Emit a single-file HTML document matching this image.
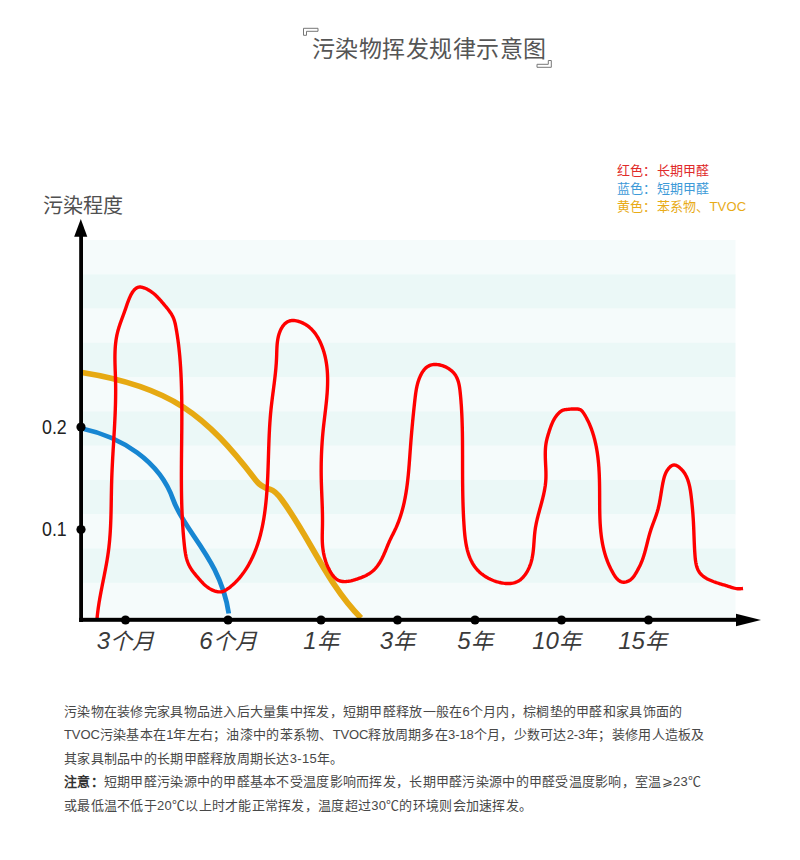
<!DOCTYPE html>
<html lang="zh-CN">
<head>
<meta charset="utf-8">
<style>
html,body{margin:0;padding:0;background:#fff;}
body{width:800px;height:860px;position:relative;overflow:hidden;font-family:"Liberation Sans",sans-serif;color:#444;}
.abs{position:absolute;white-space:nowrap;}
.title{left:312px;top:34px;font-size:23px;line-height:30px;color:#555;letter-spacing:0.45px;}
.legend{left:617px;top:162px;font-size:13px;line-height:18px;letter-spacing:0.2px;}
.ylab{left:43px;top:193.5px;font-size:20px;line-height:24px;color:#505050;}
.yn{left:42px;font-size:20px;line-height:20px;color:#222;transform:scaleX(0.89);transform-origin:0 0;}
.xl{position:absolute;top:626px;width:120px;text-align:center;font-size:22px;line-height:30px;font-style:italic;color:#3a3a3a;}
.xl span{font-size:24px;}
.para{left:64px;top:699.5px;font-size:13px;line-height:23.5px;color:#484848;letter-spacing:0.28px;}
svg{position:absolute;left:0;top:0;}
.l{font-style:normal;letter-spacing:-0.1px;}
</style>
</head>
<body>
<svg width="800" height="860" viewBox="0 0 800 860">
<rect x="83" y="240.00" width="652.5" height="34.57" fill="#f5fbfb"/><rect x="83" y="274.27" width="652.5" height="34.57" fill="#ebf8f7"/><rect x="83" y="308.55" width="652.5" height="34.57" fill="#f5fbfb"/><rect x="83" y="342.82" width="652.5" height="34.57" fill="#ebf8f7"/><rect x="83" y="377.09" width="652.5" height="34.57" fill="#f5fbfb"/><rect x="83" y="411.36" width="652.5" height="34.57" fill="#ebf8f7"/><rect x="83" y="445.64" width="652.5" height="34.57" fill="#f5fbfb"/><rect x="83" y="479.91" width="652.5" height="34.57" fill="#ebf8f7"/><rect x="83" y="514.18" width="652.5" height="34.57" fill="#f5fbfb"/><rect x="83" y="548.45" width="652.5" height="34.57" fill="#ebf8f7"/><rect x="83" y="582.73" width="652.5" height="34.57" fill="#f5fbfb"/>
<path d="M82,372.5 C169.96,386.6 205.2,414.09 256,480.5 C261,487 266,488.2 270,489.3 C274,490.4 277,493 282,500 C309.93,537.93 327.16,584.08 361,618" fill="none" stroke="#e6a912" stroke-width="5.8" stroke-linecap="butt"/>
<path d="M82,428.5 C120.88,436.87 159.79,460.78 173.25,499.9 C184.18,531.66 220.66,559.08 228.75,613.5" fill="none" stroke="#1786d2" stroke-width="4.8" stroke-linecap="butt"/>
<path d="M96.95,619.65 L97.05,618.45 L97.16,617.26 L97.28,616.07 L97.41,614.88 L97.54,613.69 L97.68,612.50 L97.83,611.31 L97.98,610.13 L98.14,608.94 L98.30,607.76 L98.48,606.57 L98.65,605.39 L98.83,604.21 L99.02,603.02 L99.21,601.84 L99.41,600.66 L99.61,599.48 L99.82,598.30 L100.02,597.12 L100.24,595.95 L100.45,594.77 L100.67,593.59 L100.89,592.41 L101.11,591.24 L101.34,590.06 L101.57,588.89 L101.80,587.71 L102.03,586.54 L102.26,585.36 L102.49,584.19 L102.73,583.01 L102.96,581.84 L103.19,580.66 L103.43,579.49 L103.66,578.31 L103.90,577.14 L104.13,575.96 L104.36,574.79 L104.59,573.62 L104.82,572.44 L105.05,571.27 L105.28,570.09 L105.50,568.92 L105.72,567.74 L105.94,566.56 L106.16,565.39 L106.37,564.21 L106.58,563.03 L106.78,561.86 L106.98,560.68 L107.18,559.50 L107.37,558.32 L107.56,557.14 L107.74,555.96 L107.92,554.78 L108.09,553.60 L108.26,552.41 L108.42,551.23 L108.57,550.05 L108.72,548.86 L108.86,547.68 L108.99,546.49 L109.12,545.30 L109.25,544.12 L109.37,542.93 L109.48,541.74 L109.59,540.55 L109.70,539.36 L109.80,538.17 L109.89,536.98 L109.98,535.78 L110.07,534.59 L110.15,533.40 L110.23,532.21 L110.30,531.01 L110.37,529.82 L110.43,528.62 L110.50,527.43 L110.56,526.23 L110.61,525.04 L110.66,523.84 L110.71,522.64 L110.76,521.44 L110.80,520.25 L110.85,519.05 L110.89,517.85 L110.92,516.65 L110.96,515.45 L110.99,514.26 L111.02,513.06 L111.05,511.86 L111.08,510.66 L111.11,509.46 L111.13,508.26 L111.15,507.06 L111.18,505.86 L111.20,504.66 L111.22,503.46 L111.24,502.26 L111.26,501.06 L111.28,499.86 L111.30,498.66 L111.32,497.46 L111.34,496.26 L111.36,495.06 L111.38,493.86 L111.41,492.66 L111.43,491.46 L111.45,490.26 L111.47,489.06 L111.50,487.86 L111.53,486.66 L111.55,485.46 L111.58,484.26 L111.62,483.07 L111.65,481.87 L111.68,480.67 L111.72,479.47 L111.76,478.28 L111.80,477.08 L111.84,475.88 L111.89,474.69 L111.94,473.49 L111.99,472.30 L112.04,471.10 L112.09,469.90 L112.14,468.71 L112.20,467.52 L112.26,466.32 L112.32,465.13 L112.38,463.93 L112.44,462.74 L112.50,461.55 L112.56,460.35 L112.63,459.16 L112.69,457.97 L112.76,456.77 L112.83,455.58 L112.90,454.39 L112.96,453.20 L113.03,452.00 L113.10,450.81 L113.17,449.62 L113.24,448.43 L113.31,447.23 L113.39,446.04 L113.46,444.85 L113.53,443.66 L113.60,442.47 L113.67,441.27 L113.74,440.08 L113.81,438.89 L113.88,437.70 L113.95,436.51 L114.02,435.31 L114.09,434.12 L114.16,432.93 L114.23,431.74 L114.30,430.55 L114.37,429.35 L114.43,428.16 L114.50,426.97 L114.56,425.78 L114.62,424.58 L114.68,423.39 L114.75,422.20 L114.80,421.01 L114.86,419.81 L114.92,418.62 L114.97,417.43 L115.03,416.23 L115.08,415.04 L115.13,413.84 L115.18,412.65 L115.22,411.46 L115.27,410.26 L115.31,409.07 L115.35,407.87 L115.39,406.67 L115.43,405.48 L115.46,404.28 L115.49,403.09 L115.52,401.89 L115.55,400.69 L115.57,399.50 L115.59,398.30 L115.61,397.10 L115.62,395.90 L115.64,394.70 L115.65,393.50 L115.65,392.31 L115.66,391.11 L115.66,389.91 L115.65,388.70 L115.65,387.50 L115.64,386.30 L115.63,385.10 L115.61,383.90 L115.59,382.70 L115.56,381.49 L115.54,380.29 L115.51,379.09 L115.47,377.88 L115.43,376.68 L115.39,375.47 L115.35,374.27 L115.31,373.06 L115.27,371.85 L115.22,370.65 L115.18,369.44 L115.14,368.24 L115.10,367.03 L115.07,365.83 L115.03,364.63 L115.00,363.42 L114.98,362.22 L114.96,361.02 L114.95,359.82 L114.94,358.62 L114.93,357.42 L114.94,356.22 L114.95,355.02 L114.98,353.83 L115.01,352.63 L115.05,351.44 L115.10,350.24 L115.16,349.05 L115.23,347.87 L115.32,346.68 L115.41,345.49 L115.52,344.31 L115.65,343.13 L115.79,341.95 L115.94,340.77 L116.11,339.59 L116.29,338.42 L116.50,337.25 L116.71,336.08 L116.95,334.91 L117.21,333.75 L117.48,332.59 L117.78,331.43 L118.09,330.27 L118.42,329.12 L118.76,327.97 L119.12,326.82 L119.49,325.68 L119.87,324.54 L120.26,323.40 L120.66,322.26 L121.07,321.12 L121.48,319.99 L121.89,318.86 L122.31,317.74 L122.73,316.61 L123.14,315.49 L123.56,314.37 L123.97,313.26 L124.37,312.14 L124.77,311.03 L125.16,309.92 L125.54,308.82 L125.91,307.71 L126.29,306.61 L126.66,305.50 L127.04,304.39 L127.43,303.28 L127.84,302.16 L128.26,301.04 L128.70,299.91 L129.16,298.76 L129.66,297.61 L130.18,296.45 L130.74,295.29 L131.33,294.15 L131.96,293.04 L132.64,291.98 L133.35,290.98 L134.12,290.06 L134.93,289.23 L135.78,288.51 L136.70,287.91 L137.66,287.46 L138.69,287.15 L139.77,287.02 L140.91,287.07 L142.10,287.27 L143.30,287.60 L144.51,288.03 L145.70,288.53 L146.86,289.08 L147.98,289.66 L149.05,290.28 L150.10,290.93 L151.10,291.60 L152.08,292.30 L153.02,293.03 L153.94,293.79 L154.83,294.56 L155.70,295.36 L156.55,296.17 L157.39,297.01 L158.21,297.86 L159.01,298.72 L159.81,299.60 L160.60,300.49 L161.38,301.38 L162.17,302.29 L162.95,303.20 L163.73,304.12 L164.52,305.04 L165.30,305.97 L166.08,306.90 L166.86,307.84 L167.62,308.79 L168.37,309.75 L169.09,310.72 L169.80,311.70 L170.48,312.69 L171.13,313.70 L171.75,314.72 L172.32,315.76 L172.86,316.81 L173.36,317.88 L173.80,318.98 L174.20,320.09 L174.55,321.22 L174.87,322.37 L175.15,323.52 L175.41,324.69 L175.65,325.86 L175.87,327.04 L176.08,328.22 L176.29,329.40 L176.50,330.58 L176.70,331.77 L176.89,332.95 L177.08,334.13 L177.26,335.32 L177.44,336.50 L177.62,337.69 L177.79,338.87 L177.95,340.06 L178.11,341.24 L178.27,342.43 L178.42,343.62 L178.56,344.81 L178.71,346.00 L178.84,347.18 L178.98,348.37 L179.11,349.56 L179.23,350.75 L179.35,351.94 L179.47,353.14 L179.58,354.33 L179.69,355.52 L179.80,356.71 L179.90,357.90 L180.00,359.10 L180.10,360.29 L180.19,361.48 L180.28,362.68 L180.36,363.87 L180.44,365.06 L180.52,366.26 L180.60,367.45 L180.67,368.65 L180.74,369.84 L180.81,371.04 L180.87,372.23 L180.94,373.43 L181.00,374.62 L181.05,375.82 L181.11,377.01 L181.16,378.21 L181.21,379.41 L181.25,380.60 L181.30,381.80 L181.34,382.99 L181.38,384.19 L181.42,385.39 L181.46,386.58 L181.49,387.78 L181.53,388.97 L181.56,390.17 L181.59,391.37 L181.61,392.56 L181.64,393.76 L181.66,394.96 L181.69,396.15 L181.71,397.35 L181.73,398.54 L181.74,399.74 L181.76,400.94 L181.77,402.13 L181.78,403.33 L181.80,404.53 L181.81,405.72 L181.81,406.92 L181.82,408.12 L181.83,409.31 L181.83,410.51 L181.84,411.71 L181.84,412.90 L181.84,414.10 L181.84,415.30 L181.84,416.49 L181.84,417.69 L181.84,418.89 L181.83,420.08 L181.83,421.28 L181.82,422.48 L181.82,423.68 L181.81,424.87 L181.80,426.07 L181.79,427.27 L181.79,428.46 L181.78,429.66 L181.77,430.86 L181.76,432.05 L181.75,433.25 L181.73,434.45 L181.72,435.64 L181.71,436.84 L181.70,438.04 L181.69,439.24 L181.67,440.43 L181.66,441.63 L181.65,442.83 L181.63,444.02 L181.62,445.22 L181.61,446.42 L181.59,447.61 L181.58,448.81 L181.57,450.01 L181.56,451.21 L181.54,452.40 L181.53,453.60 L181.52,454.80 L181.51,455.99 L181.50,457.19 L181.48,458.39 L181.47,459.58 L181.46,460.78 L181.45,461.98 L181.44,463.17 L181.44,464.37 L181.43,465.57 L181.42,466.76 L181.41,467.96 L181.41,469.16 L181.40,470.36 L181.40,471.55 L181.39,472.75 L181.39,473.95 L181.39,475.14 L181.39,476.34 L181.39,477.54 L181.39,478.73 L181.39,479.93 L181.40,481.13 L181.40,482.32 L181.41,483.52 L181.42,484.72 L181.43,485.91 L181.44,487.11 L181.45,488.30 L181.46,489.50 L181.47,490.70 L181.49,491.89 L181.51,493.09 L181.53,494.29 L181.55,495.48 L181.57,496.68 L181.59,497.87 L181.62,499.07 L181.65,500.27 L181.68,501.46 L181.71,502.66 L181.74,503.85 L181.78,505.05 L181.81,506.25 L181.85,507.44 L181.89,508.64 L181.94,509.83 L181.98,511.03 L182.03,512.23 L182.08,513.42 L182.13,514.62 L182.19,515.81 L182.24,517.01 L182.30,518.20 L182.36,519.40 L182.43,520.59 L182.49,521.79 L182.56,522.98 L182.63,524.18 L182.71,525.37 L182.79,526.57 L182.87,527.76 L182.95,528.96 L183.03,530.15 L183.12,531.35 L183.21,532.54 L183.31,533.74 L183.40,534.93 L183.50,536.13 L183.61,537.32 L183.71,538.52 L183.82,539.71 L183.93,540.90 L184.05,542.10 L184.17,543.29 L184.29,544.49 L184.41,545.68 L184.54,546.87 L184.68,548.07 L184.83,549.26 L184.98,550.44 L185.15,551.63 L185.34,552.81 L185.54,553.98 L185.77,555.15 L186.01,556.31 L186.28,557.47 L186.58,558.61 L186.91,559.75 L187.27,560.88 L187.66,561.99 L188.09,563.10 L188.55,564.19 L189.05,565.27 L189.60,566.34 L190.19,567.39 L190.82,568.43 L191.49,569.46 L192.18,570.47 L192.91,571.47 L193.65,572.46 L194.42,573.43 L195.20,574.39 L195.99,575.35 L196.79,576.28 L197.59,577.21 L198.38,578.13 L199.17,579.03 L199.96,579.93 L200.74,580.81 L201.52,581.68 L202.32,582.53 L203.13,583.37 L203.96,584.19 L204.81,584.98 L205.70,585.76 L206.63,586.51 L207.60,587.24 L208.62,587.95 L209.70,588.63 L210.82,589.27 L211.98,589.86 L213.17,590.39 L214.38,590.87 L215.60,591.26 L216.83,591.57 L218.05,591.78 L219.26,591.88 L220.44,591.87 L221.60,591.73 L222.71,591.47 L223.79,591.08 L224.84,590.60 L225.87,590.04 L226.87,589.41 L227.84,588.73 L228.80,588.03 L229.75,587.31 L230.68,586.57 L231.59,585.81 L232.50,585.04 L233.38,584.25 L234.25,583.44 L235.11,582.61 L235.95,581.78 L236.78,580.92 L237.60,580.05 L238.40,579.17 L239.19,578.27 L239.96,577.36 L240.72,576.44 L241.46,575.50 L242.20,574.55 L242.92,573.59 L243.62,572.62 L244.31,571.63 L244.99,570.64 L245.66,569.63 L246.31,568.62 L246.95,567.59 L247.57,566.56 L248.19,565.52 L248.79,564.47 L249.38,563.41 L249.95,562.35 L250.51,561.27 L251.06,560.19 L251.60,559.11 L252.13,558.02 L252.64,556.92 L253.14,555.82 L253.63,554.71 L254.11,553.60 L254.58,552.49 L255.03,551.37 L255.48,550.25 L255.91,549.13 L256.33,548.00 L256.74,546.87 L257.13,545.74 L257.52,544.61 L257.90,543.47 L258.27,542.33 L258.62,541.19 L258.97,540.04 L259.31,538.90 L259.63,537.75 L259.95,536.60 L260.26,535.45 L260.56,534.29 L260.85,533.13 L261.13,531.97 L261.40,530.81 L261.67,529.65 L261.93,528.49 L262.18,527.32 L262.42,526.15 L262.65,524.99 L262.88,523.82 L263.10,522.64 L263.31,521.47 L263.52,520.30 L263.72,519.12 L263.91,517.94 L264.10,516.77 L264.28,515.59 L264.45,514.41 L264.62,513.23 L264.79,512.05 L264.94,510.86 L265.10,509.68 L265.25,508.50 L265.39,507.31 L265.53,506.13 L265.66,504.94 L265.79,503.76 L265.91,502.57 L266.03,501.38 L266.15,500.20 L266.26,499.01 L266.37,497.82 L266.47,496.63 L266.57,495.44 L266.67,494.25 L266.76,493.06 L266.85,491.87 L266.94,490.67 L267.02,489.48 L267.10,488.29 L267.18,487.10 L267.25,485.90 L267.32,484.71 L267.39,483.51 L267.45,482.32 L267.52,481.12 L267.58,479.93 L267.64,478.73 L267.69,477.54 L267.75,476.34 L267.80,475.14 L267.85,473.95 L267.90,472.75 L267.94,471.55 L267.99,470.35 L268.03,469.16 L268.08,467.96 L268.12,466.76 L268.16,465.56 L268.20,464.36 L268.24,463.17 L268.28,461.97 L268.32,460.77 L268.35,459.57 L268.39,458.37 L268.43,457.17 L268.46,455.97 L268.50,454.78 L268.54,453.58 L268.57,452.38 L268.61,451.18 L268.65,449.98 L268.69,448.78 L268.73,447.59 L268.77,446.39 L268.81,445.19 L268.85,443.99 L268.89,442.79 L268.94,441.60 L268.98,440.40 L269.03,439.20 L269.08,438.01 L269.13,436.81 L269.18,435.61 L269.23,434.42 L269.29,433.22 L269.35,432.03 L269.41,430.83 L269.47,429.64 L269.53,428.44 L269.60,427.25 L269.67,426.06 L269.75,424.86 L269.82,423.67 L269.90,422.48 L269.98,421.29 L270.07,420.10 L270.16,418.91 L270.25,417.71 L270.34,416.53 L270.44,415.34 L270.55,414.15 L270.65,412.96 L270.77,411.77 L270.88,410.59 L271.00,409.40 L271.12,408.21 L271.25,407.03 L271.38,405.84 L271.52,404.66 L271.66,403.48 L271.80,402.29 L271.94,401.11 L272.09,399.93 L272.23,398.74 L272.38,397.56 L272.53,396.38 L272.69,395.20 L272.84,394.01 L272.99,392.83 L273.15,391.65 L273.30,390.47 L273.46,389.28 L273.61,388.10 L273.76,386.91 L273.91,385.73 L274.07,384.54 L274.22,383.36 L274.36,382.17 L274.51,380.99 L274.65,379.80 L274.79,378.61 L274.93,377.42 L275.07,376.23 L275.20,375.04 L275.33,373.85 L275.45,372.65 L275.57,371.46 L275.69,370.26 L275.80,369.07 L275.91,367.87 L276.01,366.67 L276.10,365.47 L276.19,364.27 L276.28,363.06 L276.35,361.86 L276.42,360.65 L276.49,359.44 L276.54,358.23 L276.59,357.02 L276.64,355.81 L276.68,354.59 L276.71,353.38 L276.75,352.16 L276.79,350.95 L276.83,349.73 L276.89,348.52 L276.95,347.32 L277.02,346.11 L277.11,344.91 L277.22,343.71 L277.34,342.52 L277.49,341.34 L277.66,340.16 L277.85,338.99 L278.08,337.82 L278.33,336.66 L278.62,335.51 L278.94,334.38 L279.31,333.25 L279.71,332.13 L280.15,331.02 L280.64,329.92 L281.17,328.85 L281.75,327.81 L282.38,326.80 L283.06,325.84 L283.78,324.93 L284.55,324.09 L285.38,323.31 L286.25,322.61 L287.18,322.00 L288.16,321.48 L289.19,321.06 L290.28,320.76 L291.42,320.57 L292.61,320.49 L293.84,320.52 L295.09,320.65 L296.35,320.86 L297.62,321.15 L298.87,321.50 L300.09,321.90 L301.28,322.36 L302.44,322.85 L303.56,323.39 L304.64,323.97 L305.70,324.59 L306.72,325.25 L307.71,325.94 L308.66,326.67 L309.59,327.43 L310.49,328.23 L311.35,329.06 L312.19,329.91 L313.00,330.80 L313.77,331.71 L314.53,332.64 L315.25,333.60 L315.95,334.58 L316.62,335.59 L317.26,336.61 L317.89,337.65 L318.48,338.70 L319.05,339.77 L319.60,340.85 L320.13,341.95 L320.64,343.05 L321.12,344.17 L321.58,345.29 L322.02,346.41 L322.44,347.55 L322.85,348.68 L323.23,349.82 L323.59,350.96 L323.94,352.10 L324.27,353.24 L324.58,354.39 L324.87,355.54 L325.15,356.70 L325.41,357.85 L325.65,359.01 L325.88,360.17 L326.09,361.33 L326.29,362.49 L326.47,363.66 L326.63,364.82 L326.79,365.99 L326.93,367.17 L327.05,368.34 L327.16,369.51 L327.26,370.69 L327.35,371.87 L327.42,373.05 L327.48,374.23 L327.53,375.41 L327.57,376.60 L327.60,377.78 L327.62,378.97 L327.63,380.16 L327.62,381.35 L327.61,382.54 L327.59,383.73 L327.56,384.93 L327.52,386.12 L327.47,387.32 L327.42,388.51 L327.36,389.71 L327.29,390.91 L327.21,392.10 L327.13,393.30 L327.04,394.50 L326.94,395.70 L326.84,396.91 L326.73,398.11 L326.62,399.31 L326.51,400.51 L326.39,401.71 L326.26,402.92 L326.14,404.12 L326.00,405.32 L325.87,406.52 L325.74,407.73 L325.60,408.93 L325.46,410.13 L325.32,411.34 L325.17,412.54 L325.03,413.74 L324.89,414.94 L324.74,416.15 L324.60,417.35 L324.46,418.55 L324.31,419.75 L324.17,420.95 L324.03,422.15 L323.89,423.35 L323.76,424.55 L323.62,425.74 L323.49,426.94 L323.37,428.13 L323.24,429.33 L323.12,430.52 L323.01,431.71 L322.89,432.91 L322.78,434.10 L322.68,435.29 L322.58,436.48 L322.48,437.67 L322.39,438.85 L322.29,440.04 L322.21,441.23 L322.12,442.41 L322.04,443.60 L321.97,444.79 L321.90,445.97 L321.83,447.16 L321.76,448.34 L321.70,449.53 L321.64,450.71 L321.59,451.89 L321.53,453.08 L321.49,454.26 L321.44,455.45 L321.40,456.63 L321.37,457.82 L321.33,459.00 L321.30,460.19 L321.27,461.37 L321.25,462.56 L321.23,463.74 L321.22,464.93 L321.20,466.12 L321.19,467.31 L321.19,468.49 L321.18,469.68 L321.18,470.87 L321.19,472.06 L321.20,473.25 L321.21,474.45 L321.22,475.64 L321.24,476.83 L321.26,478.03 L321.28,479.22 L321.31,480.42 L321.34,481.62 L321.37,482.82 L321.41,484.02 L321.45,485.22 L321.49,486.42 L321.53,487.62 L321.57,488.82 L321.62,490.02 L321.66,491.23 L321.71,492.43 L321.76,493.64 L321.81,494.84 L321.85,496.04 L321.90,497.25 L321.95,498.45 L322.00,499.66 L322.04,500.86 L322.09,502.07 L322.13,503.27 L322.18,504.48 L322.22,505.68 L322.26,506.89 L322.30,508.09 L322.33,509.29 L322.36,510.50 L322.39,511.70 L322.42,512.90 L322.45,514.10 L322.47,515.30 L322.48,516.50 L322.50,517.70 L322.50,518.90 L322.51,520.10 L322.51,521.29 L322.50,522.49 L322.49,523.68 L322.48,524.87 L322.46,526.06 L322.43,527.25 L322.40,528.44 L322.37,529.63 L322.35,530.82 L322.32,532.00 L322.29,533.19 L322.27,534.38 L322.26,535.56 L322.25,536.75 L322.25,537.94 L322.26,539.12 L322.28,540.31 L322.32,541.50 L322.37,542.69 L322.44,543.88 L322.52,545.07 L322.62,546.26 L322.74,547.45 L322.88,548.65 L323.04,549.84 L323.22,551.02 L323.41,552.21 L323.63,553.39 L323.87,554.58 L324.13,555.75 L324.41,556.93 L324.72,558.09 L325.05,559.26 L325.40,560.41 L325.77,561.56 L326.17,562.71 L326.59,563.84 L327.04,564.97 L327.52,566.09 L328.02,567.20 L328.55,568.30 L329.10,569.39 L329.68,570.48 L330.29,571.54 L330.93,572.60 L331.60,573.65 L332.30,574.66 L333.03,575.65 L333.80,576.59 L334.60,577.47 L335.45,578.29 L336.33,579.02 L337.25,579.67 L338.23,580.22 L339.24,580.67 L340.29,581.02 L341.38,581.28 L342.50,581.46 L343.65,581.55 L344.83,581.58 L346.02,581.54 L347.23,581.43 L348.46,581.27 L349.69,581.06 L350.93,580.80 L352.17,580.51 L353.41,580.18 L354.64,579.82 L355.87,579.44 L357.08,579.05 L358.27,578.64 L359.45,578.22 L360.60,577.79 L361.74,577.35 L362.85,576.89 L363.95,576.42 L365.02,575.93 L366.07,575.41 L367.10,574.87 L368.10,574.31 L369.08,573.71 L370.04,573.09 L370.98,572.43 L371.89,571.74 L372.78,571.02 L373.64,570.25 L374.47,569.45 L375.28,568.60 L376.07,567.71 L376.83,566.78 L377.56,565.81 L378.27,564.82 L378.95,563.79 L379.61,562.75 L380.25,561.69 L380.86,560.61 L381.46,559.52 L382.03,558.42 L382.57,557.32 L383.10,556.22 L383.61,555.12 L384.10,554.03 L384.58,552.93 L385.05,551.83 L385.50,550.74 L385.95,549.64 L386.40,548.55 L386.85,547.45 L387.29,546.36 L387.74,545.27 L388.19,544.18 L388.65,543.10 L389.13,542.01 L389.61,540.93 L390.11,539.85 L390.62,538.76 L391.15,537.69 L391.69,536.61 L392.23,535.53 L392.78,534.45 L393.32,533.37 L393.87,532.28 L394.40,531.20 L394.93,530.11 L395.44,529.02 L395.95,527.92 L396.43,526.82 L396.91,525.72 L397.37,524.61 L397.82,523.50 L398.26,522.39 L398.69,521.27 L399.10,520.15 L399.51,519.03 L399.90,517.90 L400.28,516.77 L400.65,515.64 L401.01,514.51 L401.35,513.37 L401.69,512.23 L402.02,511.08 L402.34,509.94 L402.65,508.79 L402.95,507.64 L403.24,506.48 L403.52,505.33 L403.79,504.17 L404.05,503.01 L404.31,501.84 L404.55,500.68 L404.79,499.51 L405.02,498.34 L405.24,497.17 L405.46,496.00 L405.67,494.82 L405.87,493.65 L406.06,492.47 L406.25,491.29 L406.43,490.11 L406.61,488.92 L406.78,487.74 L406.94,486.55 L407.10,485.37 L407.25,484.18 L407.40,482.99 L407.54,481.80 L407.68,480.61 L407.81,479.41 L407.94,478.22 L408.07,477.03 L408.19,475.83 L408.31,474.63 L408.42,473.44 L408.53,472.24 L408.64,471.04 L408.74,469.85 L408.85,468.65 L408.94,467.45 L409.04,466.25 L409.14,465.05 L409.23,463.85 L409.32,462.65 L409.41,461.45 L409.50,460.25 L409.59,459.05 L409.68,457.86 L409.77,456.66 L409.85,455.46 L409.94,454.26 L410.02,453.06 L410.11,451.87 L410.20,450.67 L410.29,449.47 L410.38,448.28 L410.46,447.08 L410.56,445.89 L410.65,444.70 L410.74,443.51 L410.83,442.32 L410.93,441.12 L411.02,439.93 L411.12,438.74 L411.22,437.55 L411.32,436.37 L411.42,435.18 L411.52,433.99 L411.62,432.80 L411.72,431.61 L411.83,430.43 L411.93,429.24 L412.04,428.05 L412.15,426.86 L412.26,425.68 L412.37,424.49 L412.48,423.30 L412.59,422.12 L412.70,420.93 L412.82,419.74 L412.93,418.56 L413.05,417.37 L413.17,416.18 L413.29,415.00 L413.41,413.81 L413.53,412.62 L413.65,411.43 L413.77,410.24 L413.90,409.05 L414.02,407.86 L414.15,406.67 L414.28,405.48 L414.41,404.29 L414.54,403.10 L414.67,401.91 L414.80,400.72 L414.93,399.52 L415.07,398.33 L415.21,397.13 L415.36,395.94 L415.51,394.75 L415.67,393.56 L415.84,392.37 L416.02,391.18 L416.22,390.00 L416.43,388.82 L416.66,387.64 L416.90,386.47 L417.17,385.30 L417.46,384.14 L417.77,382.99 L418.11,381.84 L418.48,380.70 L418.87,379.56 L419.29,378.44 L419.75,377.32 L420.24,376.21 L420.77,375.11 L421.33,374.02 L421.93,372.95 L422.57,371.89 L423.26,370.87 L423.99,369.90 L424.76,368.98 L425.59,368.13 L426.47,367.36 L427.40,366.68 L428.38,366.10 L429.41,365.61 L430.48,365.21 L431.59,364.90 L432.73,364.68 L433.90,364.54 L435.10,364.48 L436.31,364.50 L437.53,364.59 L438.76,364.76 L439.99,364.99 L441.22,365.29 L442.44,365.66 L443.64,366.08 L444.83,366.57 L446.00,367.11 L447.14,367.70 L448.24,368.35 L449.31,369.04 L450.33,369.78 L451.31,370.55 L452.23,371.37 L453.09,372.22 L453.89,373.11 L454.63,374.03 L455.30,374.97 L455.91,375.95 L456.46,376.95 L456.96,377.98 L457.41,379.02 L457.82,380.09 L458.18,381.18 L458.51,382.29 L458.79,383.41 L459.05,384.55 L459.28,385.70 L459.48,386.86 L459.66,388.03 L459.82,389.21 L459.97,390.39 L460.10,391.58 L460.23,392.77 L460.35,393.97 L460.47,395.16 L460.58,396.36 L460.69,397.55 L460.79,398.75 L460.89,399.95 L460.99,401.14 L461.08,402.34 L461.17,403.54 L461.26,404.74 L461.34,405.95 L461.42,407.15 L461.49,408.35 L461.56,409.55 L461.63,410.76 L461.69,411.96 L461.75,413.16 L461.81,414.37 L461.87,415.57 L461.92,416.78 L461.97,417.98 L462.02,419.19 L462.06,420.39 L462.10,421.60 L462.14,422.81 L462.18,424.01 L462.21,425.22 L462.25,426.42 L462.28,427.63 L462.31,428.83 L462.33,430.04 L462.35,431.24 L462.38,432.45 L462.40,433.65 L462.42,434.86 L462.43,436.06 L462.45,437.26 L462.46,438.47 L462.47,439.67 L462.49,440.87 L462.50,442.07 L462.50,443.27 L462.51,444.47 L462.52,445.67 L462.53,446.87 L462.53,448.07 L462.53,449.26 L462.54,450.46 L462.54,451.65 L462.54,452.85 L462.55,454.04 L462.55,455.23 L462.55,456.42 L462.55,457.61 L462.55,458.80 L462.55,459.99 L462.55,461.18 L462.55,462.36 L462.56,463.55 L462.56,464.73 L462.56,465.92 L462.56,467.10 L462.56,468.28 L462.56,469.47 L462.57,470.65 L462.57,471.83 L462.57,473.01 L462.58,474.19 L462.58,475.37 L462.59,476.56 L462.59,477.74 L462.60,478.92 L462.61,480.10 L462.61,481.28 L462.62,482.46 L462.63,483.64 L462.65,484.83 L462.66,486.01 L462.67,487.19 L462.69,488.38 L462.70,489.56 L462.72,490.74 L462.74,491.93 L462.76,493.12 L462.78,494.30 L462.80,495.49 L462.83,496.68 L462.85,497.87 L462.88,499.06 L462.91,500.25 L462.94,501.44 L462.98,502.64 L463.01,503.83 L463.05,505.03 L463.09,506.23 L463.13,507.43 L463.18,508.63 L463.22,509.83 L463.27,511.03 L463.32,512.24 L463.37,513.45 L463.43,514.65 L463.49,515.86 L463.55,517.08 L463.61,518.29 L463.68,519.51 L463.74,520.73 L463.82,521.95 L463.89,523.17 L463.97,524.40 L464.05,525.62 L464.13,526.85 L464.22,528.08 L464.31,529.32 L464.40,530.55 L464.51,531.78 L464.62,533.01 L464.74,534.24 L464.86,535.47 L465.00,536.69 L465.14,537.91 L465.30,539.13 L465.47,540.35 L465.65,541.55 L465.84,542.76 L466.05,543.95 L466.27,545.15 L466.50,546.33 L466.75,547.50 L467.02,548.67 L467.30,549.83 L467.61,550.98 L467.93,552.12 L468.27,553.25 L468.63,554.36 L469.01,555.47 L469.41,556.56 L469.83,557.64 L470.28,558.71 L470.75,559.76 L471.25,560.80 L471.77,561.82 L472.31,562.83 L472.88,563.82 L473.48,564.79 L474.11,565.74 L474.77,566.68 L475.45,567.60 L476.17,568.50 L476.92,569.38 L477.70,570.24 L478.51,571.08 L479.35,571.89 L480.23,572.69 L481.14,573.46 L482.07,574.21 L483.04,574.93 L484.03,575.63 L485.05,576.31 L486.09,576.96 L487.15,577.58 L488.24,578.18 L489.34,578.74 L490.45,579.28 L491.59,579.80 L492.73,580.28 L493.89,580.73 L495.06,581.15 L496.24,581.54 L497.42,581.90 L498.61,582.22 L499.81,582.51 L501.00,582.77 L502.20,582.99 L503.39,583.18 L504.59,583.33 L505.77,583.45 L506.96,583.52 L508.13,583.54 L509.29,583.52 L510.45,583.44 L511.58,583.31 L512.71,583.13 L513.81,582.89 L514.90,582.58 L515.96,582.21 L517.00,581.78 L518.02,581.27 L519.01,580.69 L519.97,580.04 L520.90,579.31 L521.80,578.52 L522.67,577.66 L523.50,576.74 L524.30,575.78 L525.07,574.77 L525.80,573.73 L526.49,572.66 L527.14,571.57 L527.76,570.47 L528.33,569.35 L528.86,568.23 L529.36,567.10 L529.82,565.97 L530.24,564.83 L530.64,563.69 L531.00,562.54 L531.33,561.39 L531.63,560.23 L531.91,559.07 L532.16,557.91 L532.39,556.74 L532.60,555.57 L532.79,554.39 L532.96,553.22 L533.12,552.03 L533.26,550.85 L533.39,549.67 L533.50,548.48 L533.61,547.29 L533.71,546.10 L533.80,544.91 L533.89,543.72 L533.97,542.53 L534.06,541.34 L534.14,540.14 L534.23,538.95 L534.32,537.76 L534.41,536.57 L534.51,535.38 L534.63,534.19 L534.75,533.00 L534.88,531.82 L535.03,530.64 L535.19,529.46 L535.37,528.28 L535.56,527.10 L535.77,525.93 L535.99,524.76 L536.22,523.59 L536.47,522.42 L536.72,521.26 L536.99,520.09 L537.26,518.93 L537.55,517.77 L537.84,516.61 L538.13,515.45 L538.44,514.29 L538.74,513.13 L539.06,511.97 L539.37,510.82 L539.69,509.66 L540.00,508.50 L540.32,507.35 L540.64,506.19 L540.96,505.03 L541.27,503.88 L541.58,502.72 L541.89,501.56 L542.19,500.40 L542.49,499.24 L542.78,498.08 L543.06,496.92 L543.34,495.76 L543.61,494.60 L543.86,493.43 L544.11,492.26 L544.34,491.10 L544.56,489.93 L544.77,488.75 L544.96,487.58 L545.14,486.40 L545.31,485.22 L545.45,484.04 L545.58,482.85 L545.69,481.67 L545.78,480.48 L545.85,479.28 L545.90,478.09 L545.93,476.89 L545.95,475.69 L545.95,474.48 L545.94,473.28 L545.92,472.07 L545.89,470.86 L545.85,469.65 L545.80,468.44 L545.75,467.23 L545.69,466.02 L545.63,464.81 L545.57,463.60 L545.52,462.39 L545.46,461.18 L545.41,459.97 L545.37,458.76 L545.33,457.55 L545.31,456.35 L545.29,455.15 L545.28,453.95 L545.29,452.75 L545.32,451.56 L545.36,450.36 L545.42,449.18 L545.50,447.99 L545.60,446.81 L545.73,445.63 L545.88,444.46 L546.06,443.29 L546.26,442.13 L546.49,440.97 L546.75,439.81 L547.03,438.66 L547.33,437.51 L547.65,436.35 L547.98,435.20 L548.33,434.04 L548.69,432.88 L549.06,431.71 L549.44,430.53 L549.83,429.36 L550.23,428.18 L550.65,427.01 L551.09,425.85 L551.54,424.69 L552.02,423.55 L552.52,422.42 L553.04,421.31 L553.60,420.22 L554.18,419.16 L554.79,418.13 L555.44,417.12 L556.12,416.15 L556.84,415.21 L557.60,414.31 L558.40,413.46 L559.25,412.64 L560.14,411.88 L561.08,411.18 L562.08,410.57 L563.14,410.10 L564.26,409.78 L565.43,409.58 L566.62,409.44 L567.82,409.32 L569.02,409.21 L570.22,409.11 L571.43,409.02 L572.64,408.96 L573.86,408.93 L575.08,408.92 L576.32,408.96 L577.57,409.05 L578.77,409.24 L579.91,409.56 L580.93,410.07 L581.81,410.78 L582.57,411.66 L583.26,412.63 L583.92,413.64 L584.56,414.66 L585.18,415.70 L585.78,416.74 L586.37,417.79 L586.93,418.85 L587.48,419.91 L588.02,420.99 L588.54,422.07 L589.04,423.16 L589.52,424.26 L589.99,425.37 L590.45,426.48 L590.89,427.60 L591.31,428.72 L591.72,429.85 L592.12,430.98 L592.50,432.12 L592.87,433.26 L593.22,434.41 L593.57,435.56 L593.90,436.71 L594.21,437.87 L594.52,439.03 L594.81,440.19 L595.09,441.35 L595.36,442.52 L595.62,443.68 L595.87,444.85 L596.11,446.02 L596.34,447.19 L596.55,448.36 L596.76,449.53 L596.96,450.70 L597.15,451.88 L597.33,453.05 L597.50,454.23 L597.66,455.41 L597.81,456.58 L597.96,457.76 L598.09,458.94 L598.22,460.13 L598.34,461.31 L598.46,462.49 L598.57,463.67 L598.67,464.86 L598.76,466.04 L598.85,467.23 L598.93,468.42 L599.00,469.60 L599.07,470.79 L599.14,471.98 L599.20,473.17 L599.25,474.36 L599.30,475.55 L599.34,476.75 L599.38,477.94 L599.42,479.13 L599.45,480.33 L599.48,481.52 L599.51,482.72 L599.53,483.91 L599.55,485.11 L599.57,486.31 L599.58,487.50 L599.60,488.70 L599.61,489.90 L599.62,491.10 L599.62,492.30 L599.63,493.50 L599.63,494.69 L599.64,495.89 L599.64,497.10 L599.65,498.30 L599.65,499.50 L599.66,500.70 L599.66,501.90 L599.66,503.10 L599.67,504.30 L599.68,505.50 L599.69,506.71 L599.70,507.91 L599.71,509.11 L599.73,510.31 L599.75,511.51 L599.77,512.71 L599.80,513.91 L599.83,515.11 L599.86,516.31 L599.90,517.51 L599.94,518.71 L599.99,519.90 L600.04,521.10 L600.10,522.29 L600.17,523.49 L600.24,524.68 L600.32,525.87 L600.40,527.06 L600.50,528.25 L600.60,529.44 L600.70,530.63 L600.82,531.81 L600.95,533.00 L601.08,534.18 L601.22,535.36 L601.37,536.54 L601.53,537.72 L601.71,538.89 L601.89,540.07 L602.08,541.24 L602.28,542.41 L602.50,543.58 L602.72,544.74 L602.96,545.91 L603.21,547.07 L603.48,548.23 L603.75,549.38 L604.04,550.54 L604.34,551.69 L604.66,552.84 L604.99,553.99 L605.33,555.13 L605.69,556.27 L606.06,557.41 L606.45,558.54 L606.86,559.67 L607.28,560.80 L607.71,561.93 L608.17,563.05 L608.64,564.17 L609.12,565.29 L609.63,566.40 L610.15,567.51 L610.69,568.62 L611.25,569.72 L611.83,570.82 L612.42,571.91 L613.04,573.00 L613.67,574.09 L614.33,575.16 L615.01,576.20 L615.73,577.21 L616.47,578.15 L617.25,579.03 L618.07,579.83 L618.93,580.54 L619.84,581.14 L620.79,581.62 L621.80,581.97 L622.86,582.18 L623.98,582.22 L625.15,582.11 L626.35,581.84 L627.54,581.44 L628.70,580.91 L629.80,580.28 L630.81,579.56 L631.74,578.75 L632.59,577.88 L633.37,576.94 L634.10,575.96 L634.78,574.95 L635.44,573.91 L636.07,572.86 L636.68,571.81 L637.28,570.75 L637.87,569.69 L638.44,568.63 L638.99,567.57 L639.53,566.49 L640.05,565.42 L640.55,564.34 L641.03,563.25 L641.49,562.15 L641.93,561.05 L642.36,559.94 L642.76,558.82 L643.15,557.70 L643.53,556.57 L643.89,555.44 L644.23,554.30 L644.57,553.16 L644.90,552.01 L645.22,550.86 L645.53,549.71 L645.83,548.55 L646.13,547.40 L646.43,546.24 L646.72,545.07 L647.01,543.91 L647.30,542.75 L647.59,541.59 L647.88,540.42 L648.18,539.26 L648.48,538.10 L648.78,536.94 L649.10,535.78 L649.42,534.62 L649.75,533.47 L650.09,532.32 L650.44,531.17 L650.80,530.03 L651.18,528.89 L651.57,527.75 L651.97,526.62 L652.38,525.49 L652.79,524.36 L653.21,523.24 L653.64,522.11 L654.06,520.99 L654.48,519.86 L654.90,518.74 L655.31,517.61 L655.71,516.49 L656.11,515.36 L656.49,514.23 L656.86,513.09 L657.22,511.95 L657.55,510.81 L657.87,509.67 L658.18,508.52 L658.46,507.36 L658.73,506.20 L658.99,505.04 L659.24,503.88 L659.47,502.71 L659.69,501.54 L659.91,500.37 L660.12,499.20 L660.32,498.02 L660.51,496.84 L660.71,495.67 L660.90,494.49 L661.09,493.31 L661.27,492.13 L661.46,490.95 L661.66,489.77 L661.85,488.59 L662.05,487.41 L662.26,486.23 L662.48,485.05 L662.70,483.88 L662.93,482.70 L663.18,481.53 L663.44,480.37 L663.71,479.20 L664.00,478.04 L664.32,476.88 L664.69,475.72 L665.10,474.57 L665.57,473.42 L666.11,472.28 L666.73,471.14 L667.44,470.01 L668.23,468.90 L669.09,467.87 L670.02,466.94 L671.00,466.15 L672.02,465.53 L673.07,465.13 L674.14,464.99 L675.21,465.12 L676.28,465.48 L677.33,466.03 L678.35,466.69 L679.32,467.42 L680.23,468.18 L681.10,468.98 L681.91,469.82 L682.68,470.69 L683.41,471.59 L684.08,472.52 L684.72,473.48 L685.32,474.47 L685.87,475.48 L686.39,476.52 L686.88,477.57 L687.33,478.65 L687.75,479.75 L688.13,480.87 L688.49,482.01 L688.83,483.16 L689.13,484.32 L689.42,485.50 L689.68,486.69 L689.92,487.89 L690.14,489.09 L690.35,490.30 L690.54,491.52 L690.72,492.74 L690.89,493.97 L691.05,495.19 L691.20,496.41 L691.34,497.64 L691.48,498.85 L691.61,500.07 L691.75,501.28 L691.87,502.48 L691.99,503.69 L692.11,504.89 L692.23,506.08 L692.34,507.28 L692.45,508.47 L692.55,509.66 L692.65,510.85 L692.75,512.04 L692.84,513.23 L692.93,514.41 L693.01,515.59 L693.09,516.78 L693.17,517.96 L693.25,519.14 L693.32,520.33 L693.39,521.51 L693.45,522.69 L693.51,523.88 L693.57,525.06 L693.63,526.25 L693.68,527.44 L693.73,528.62 L693.78,529.81 L693.83,531.01 L693.87,532.20 L693.92,533.39 L693.96,534.59 L694.00,535.78 L694.05,536.98 L694.09,538.18 L694.14,539.38 L694.18,540.58 L694.23,541.78 L694.28,542.98 L694.33,544.19 L694.39,545.39 L694.45,546.60 L694.51,547.81 L694.57,549.02 L694.64,550.23 L694.72,551.44 L694.80,552.65 L694.88,553.87 L694.97,555.08 L695.07,556.30 L695.17,557.52 L695.29,558.73 L695.43,559.93 L695.59,561.13 L695.77,562.31 L695.98,563.48 L696.23,564.62 L696.51,565.75 L696.82,566.86 L697.19,567.93 L697.60,568.98 L698.06,570.00 L698.57,570.98 L699.14,571.92 L699.78,572.83 L700.48,573.69 L701.24,574.51 L702.06,575.29 L702.94,576.03 L703.87,576.74 L704.84,577.41 L705.86,578.05 L706.91,578.65 L708.00,579.23 L709.13,579.78 L710.28,580.30 L711.45,580.80 L712.64,581.28 L713.85,581.74 L715.08,582.17 L716.30,582.60 L717.54,583.00 L718.77,583.39 L720.00,583.78 L721.22,584.15 L722.43,584.51 L723.63,584.87 L724.81,585.22 L725.96,585.57 L727.09,585.91 L728.18,586.26 L729.24,586.61 L730.27,586.96 L731.29,587.30 L732.30,587.62 L733.32,587.92 L734.35,588.18 L735.42,588.40 L736.52,588.58 L737.67,588.70 L738.89,588.76 L740.18,588.75 L741.56,588.67 L743.03,588.50" fill="none" stroke="#ff0000" stroke-width="3.4" stroke-linecap="butt" stroke-linejoin="round"/>
<rect x="79.2" y="236" width="3.8" height="386" fill="#000"/>
<polygon points="80.8,219 74.2,236.8 87.3,236.8" fill="#000"/>
<rect x="79.2" y="617.8" width="657" height="4" fill="#000"/>
<polygon points="761,620 736,613.8 736,626.2" fill="#000"/>
<circle cx="125.5" cy="620" r="4.6" fill="#000"/><circle cx="228.0" cy="620" r="4.6" fill="#000"/><circle cx="321.0" cy="620" r="4.6" fill="#000"/><circle cx="397.5" cy="620" r="4.6" fill="#000"/><circle cx="475.0" cy="620" r="4.6" fill="#000"/><circle cx="561.5" cy="620" r="4.6" fill="#000"/><circle cx="648.5" cy="620" r="4.6" fill="#000"/><circle cx="81" cy="427" r="4.6" fill="#000"/><circle cx="81" cy="529.5" r="4.6" fill="#000"/>
<path d="M303.5,28.3 H318 V31.3 H306.5 V35.3 H303.5 Z" fill="none" stroke="#777" stroke-width="1"/>
<path d="M551.3,60.5 V67.3 H537 V64.3 H548.3 V60.5 Z" fill="none" stroke="#777" stroke-width="1"/>
</svg>
<div class="abs title">污染物挥发规律示意图</div>
<div class="abs legend"><div style="color:#e02a2a">红色：长期甲醛</div><div style="color:#3d9ad8">蓝色：短期甲醛</div><div style="color:#e8ab16">黄色：苯系物、TVOC</div></div>
<div class="abs ylab">污染程度</div>
<div class="abs yn" style="top:416.5px">0.2</div>
<div class="abs yn" style="top:518.5px">0.1</div>
<div class="xl" style="left:65.5px"><span>3</span>个月</div><div class="xl" style="left:168.0px"><span>6</span>个月</div><div class="xl" style="left:261.0px"><span>1</span>年</div><div class="xl" style="left:337.5px"><span>3</span>年</div><div class="xl" style="left:415.0px"><span>5</span>年</div><div class="xl" style="left:496.5px"><span>10</span>年</div><div class="xl" style="left:582.5px"><span>15</span>年</div>
<div class="abs para">污染物在装修完家具物品进入后大量集中挥发，短期甲醛释放一般在6个月内，棕榈垫的甲醛和家具饰面的<br><i class="l">TVOC</i>污染基本在<i class="l">1</i>年左右；油漆中的苯系物、<i class="l">TVOC</i>释放周期多在<i class="l">3-18</i>个月，少数可达<i class="l">2-3</i>年；装修用人造板及<br>其家具制品中的长期甲醛释放周期长达3-15年。<br><b style="color:#333">注意：</b>短期甲醛污染源中的甲醛基本不受温度影响而挥发，长期甲醛污染源中的甲醛受温度影响，室温⩾23℃<br>或最低温不低于20℃以上时才能正常挥发，温度超过30℃的环境则会加速挥发。</div>
</body>
</html>
